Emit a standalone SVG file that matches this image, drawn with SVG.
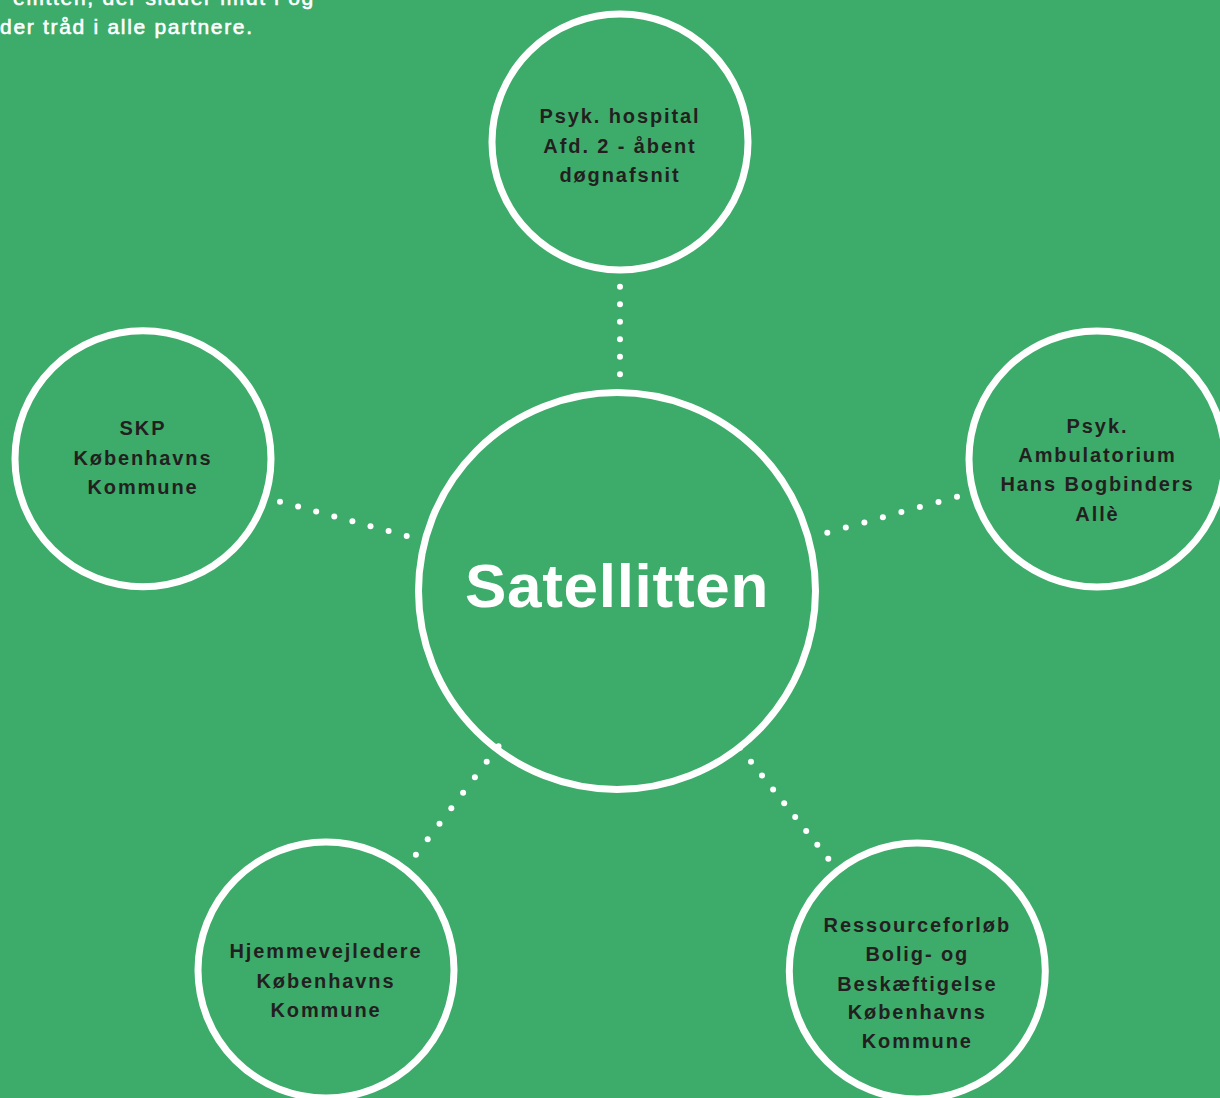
<svg xmlns="http://www.w3.org/2000/svg" width="1220" height="1098" viewBox="0 0 1220 1098">
  <style>
    .bg { fill: #3dac6a; }
    .ring { fill: none; stroke: #ffffff; stroke-width: 7; }
    .dot { fill: #ffffff; }
    .lbl { font-family: "Liberation Sans", Arial, Helvetica, sans-serif; font-size: 20px; font-weight: bold; fill: #231f20; text-anchor: middle; letter-spacing: 1.9px; }
    .intro { font-family: "Liberation Sans", Arial, Helvetica, sans-serif; font-size: 21px; fill: #ffffff; stroke: #ffffff; stroke-width: 0.6px; letter-spacing: 1.7px; }
    .title { font-family: "Liberation Sans", Arial, Helvetica, sans-serif; font-size: 62px; font-weight: bold; fill: #ffffff; text-anchor: middle; letter-spacing: 0.7px; }
  </style>
  <rect class="bg" x="0" y="0" width="1220" height="1098"/>

  <g id="intro-text">
    <text class="intro" x="315" y="5" text-anchor="end">ellitten, der sidder midt i og</text>
    <text class="intro" x="0" y="34">der tråd i alle partnere.</text>
  </g>

  <g id="connectors">
    <!-- top -->
    <circle class="dot" cx="620" cy="286.7" r="3"/>
    <circle class="dot" cx="620" cy="304.2" r="3"/>
    <circle class="dot" cx="620" cy="321.7" r="3"/>
    <circle class="dot" cx="620" cy="339.2" r="3"/>
    <circle class="dot" cx="620" cy="356.7" r="3"/>
    <circle class="dot" cx="620" cy="374.2" r="3"/>
    <!-- left -->
    <circle class="dot" cx="280" cy="501.7" r="3"/>
    <circle class="dot" cx="298.1" cy="506.6" r="3"/>
    <circle class="dot" cx="316.2" cy="511.5" r="3"/>
    <circle class="dot" cx="334.3" cy="516.4" r="3"/>
    <circle class="dot" cx="352.4" cy="521.3" r="3"/>
    <circle class="dot" cx="370.5" cy="526.2" r="3"/>
    <circle class="dot" cx="388.6" cy="531.1" r="3"/>
    <circle class="dot" cx="406.7" cy="536" r="3"/>
    <!-- right -->
    <circle class="dot" cx="827.3" cy="532.7" r="3"/>
    <circle class="dot" cx="845.8" cy="527.6" r="3"/>
    <circle class="dot" cx="864.4" cy="522.4" r="3"/>
    <circle class="dot" cx="882.9" cy="517.3" r="3"/>
    <circle class="dot" cx="901.4" cy="512.1" r="3"/>
    <circle class="dot" cx="919.9" cy="507" r="3"/>
    <circle class="dot" cx="938.5" cy="501.9" r="3"/>
    <circle class="dot" cx="957" cy="496.7" r="3"/>
    <!-- bottom-left -->
    <circle class="dot" cx="498.5" cy="746.2" r="3"/>
    <circle class="dot" cx="486.7" cy="761.7" r="3"/>
    <circle class="dot" cx="474.9" cy="777.2" r="3"/>
    <circle class="dot" cx="463.1" cy="792.7" r="3"/>
    <circle class="dot" cx="451.3" cy="808.2" r="3"/>
    <circle class="dot" cx="439.5" cy="823.7" r="3"/>
    <circle class="dot" cx="427.7" cy="839.2" r="3"/>
    <circle class="dot" cx="415.9" cy="854.7" r="3"/>
    <!-- bottom-right -->
    <circle class="dot" cx="740" cy="747.8" r="3"/>
    <circle class="dot" cx="751" cy="761.7" r="3"/>
    <circle class="dot" cx="762" cy="775.6" r="3"/>
    <circle class="dot" cx="773.1" cy="789.4" r="3"/>
    <circle class="dot" cx="784.2" cy="803.3" r="3"/>
    <circle class="dot" cx="795.2" cy="817.1" r="3"/>
    <circle class="dot" cx="806.2" cy="831" r="3"/>
    <circle class="dot" cx="817.3" cy="844.8" r="3"/>
    <circle class="dot" cx="828.3" cy="858.7" r="3"/>
  </g>

  <g id="node-satellitten">
    <circle class="ring" cx="617" cy="591" r="198.5"/>
    <text class="title" x="617" y="607">Satellitten</text>
  </g>

  <g id="node-psyk-hospital">
    <circle class="ring" cx="620" cy="142" r="128"/>
    <text class="lbl" x="620" y="123.3">Psyk. hospital</text>
    <text class="lbl" x="620" y="152.7">Afd. 2 - åbent</text>
    <text class="lbl" x="620" y="181.7">døgnafsnit</text>
  </g>

  <g id="node-skp">
    <circle class="ring" cx="143" cy="458.7" r="128"/>
    <text class="lbl" x="143" y="435">SKP</text>
    <text class="lbl" x="143" y="465">Københavns</text>
    <text class="lbl" x="143" y="494">Kommune</text>
  </g>

  <g id="node-ambulatorium">
    <circle class="ring" cx="1097" cy="459" r="128"/>
    <text class="lbl" x="1097.5" y="432.7">Psyk.</text>
    <text class="lbl" x="1097.5" y="461.7">Ambulatorium</text>
    <text class="lbl" x="1097.5" y="490.7">Hans Bogbinders</text>
    <text class="lbl" x="1097.5" y="520.7">Allè</text>
  </g>

  <g id="node-hjemmevejledere">
    <circle class="ring" cx="326" cy="970" r="128"/>
    <text class="lbl" x="326" y="958.3">Hjemmevejledere</text>
    <text class="lbl" x="326" y="988.3">Københavns</text>
    <text class="lbl" x="326" y="1016.7">Kommune</text>
  </g>

  <g id="node-ressourceforloeb">
    <circle class="ring" cx="917.3" cy="971" r="128"/>
    <text class="lbl" x="917.3" y="931.7">Ressourceforløb</text>
    <text class="lbl" x="917.3" y="961">Bolig- og</text>
    <text class="lbl" x="917.3" y="990.7">Beskæftigelse</text>
    <text class="lbl" x="917.3" y="1019.3">Københavns</text>
    <text class="lbl" x="917.3" y="1048.3">Kommune</text>
  </g>
</svg>
